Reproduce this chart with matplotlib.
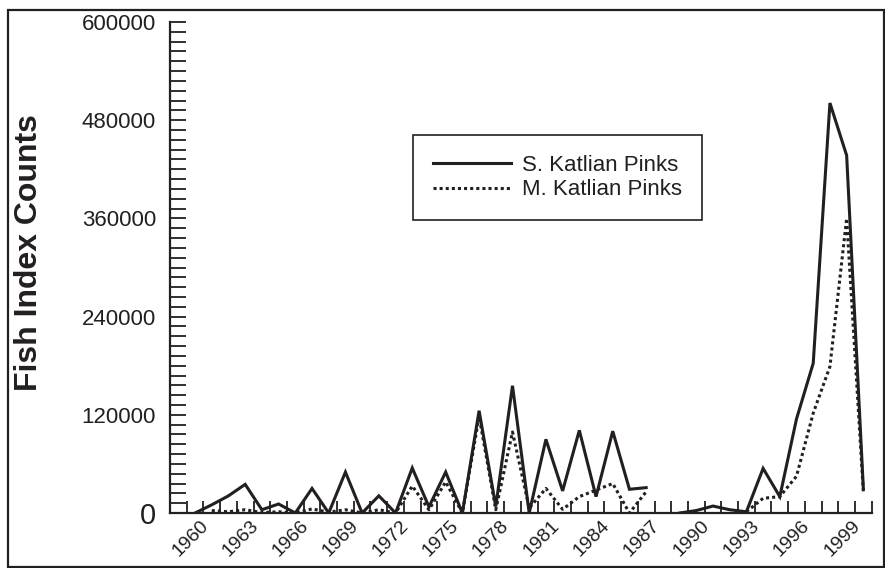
import numpy as np
import matplotlib
matplotlib.use('Agg')
import matplotlib.pyplot as plt
from matplotlib.patches import Rectangle
from matplotlib.ticker import MultipleLocator, FixedLocator

plt.rcParams['font.family'] = 'Liberation Sans'

nan = np.nan

# Data
years = list(range(1959, 2000))
s_katlian = [0, 10000, 21000, 35000, 4000, 11000, 0, 30000, 0, 50000,
             0, 21000, 0, 55000, 7500, 50000, 0, 125000, 8000, 155500,
             0, 90000, 27000, 101000, 20000, 100000, 29000, 31000, nan, 0,
             3000, 8500, 4000, 1500, 54500, 20000, 115000, 183000, 501000, 437000,
             30000]
m_katlian = [nan, 3000, 1500, 4000, 500, 1500, 0, 5000, 1000, 4000,
             0, 4000, 0, 33000, 4000, 38000, 0, 118000, 4000, 99000,
             6000, 30000, 4500, 20000, 28000, 36000, 0, 26000, nan, nan,
             nan, nan, nan, 1500, 18000, 20000, 45000, 122000, 179000, 360000,
             26000]
year_labels = list(range(1960, 2000, 3))
y_ticks = [0, 120000, 240000, 360000, 480000, 600000]

ink = '#231f20'

fig = plt.figure(figsize=(8.85, 5.68), dpi=100)
ax = fig.add_axes([170 / 885, 55 / 568, 701.7 / 885, 491 / 568])

ax.plot(years, s_katlian, color=ink, linewidth=2.2, label='S. Katlian Pinks',
        solid_joinstyle='miter')
ax.plot(years, m_katlian, color=ink, linewidth=2.2, linestyle=(0, (1, 1)),
        label='M. Katlian Pinks')

ax.set_xlim(1957.5, 1999.5)
ax.set_ylim(0, 600000)

# spines
for side in ['top', 'right']:
    ax.spines[side].set_visible(False)
for side in ['left', 'bottom']:
    ax.spines[side].set_linewidth(1.6)
    ax.spines[side].set_color(ink)

# x axis: labels at category centres, ticks at category edges
ax.xaxis.set_major_locator(FixedLocator(year_labels))
ax.set_xticklabels([str(y) for y in year_labels], rotation=45, ha='right',
                   fontsize=14)
ax.xaxis.set_minor_locator(FixedLocator(np.arange(1958.5, 2000, 1.0)))
ax.tick_params(axis='x', which='major', length=0, pad=3, colors=ink)
ax.tick_params(axis='x', which='minor', direction='in', length=8.5, width=1.3,
               color=ink)

# y axis
ax.yaxis.set_major_locator(FixedLocator(y_ticks))
ax.yaxis.set_minor_locator(MultipleLocator(12000))
ax.set_yticklabels(['0'] + [str(v) for v in y_ticks[1:]], fontsize=16)
ax.tick_params(axis='y', which='both', direction='in', length=11.5, width=1.3,
               color=ink, pad=10)
ax.tick_params(axis='y', which='major', labelcolor=ink)
ax.get_yticklabels()[0].set_fontsize(21)

ax.set_ylabel('Fish Index Counts', fontsize=23, fontweight='bold', color=ink)
ax.yaxis.set_label_coords((44 - 170) / 701.7, 0.53)

leg = ax.legend(loc='upper left', bbox_to_anchor=((413 - 170) / 701.7, (513 - 135) / 491),
                fontsize=16, frameon=True, fancybox=False, framealpha=1,
                edgecolor=ink, borderpad=0.9, labelspacing=0.15,
                handlelength=3.5, handletextpad=0.5, borderaxespad=0)
leg.get_frame().set_linewidth(1.2)
for t in leg.get_texts():
    t.set_color(ink)

# figure frame
fig.patches.append(Rectangle((7.7 / 885, 1 / 568), (883.5 - 7.7) / 885, (557) / 568,
                             transform=fig.transFigure, fill=False,
                             edgecolor=ink, linewidth=1.6))

plt.savefig('out.png', dpi=100)
